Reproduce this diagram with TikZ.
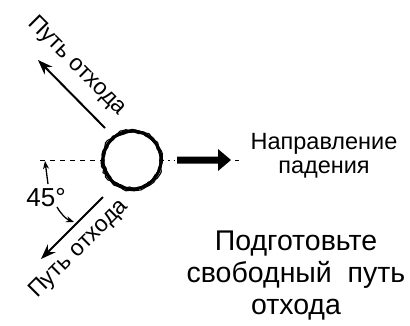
\documentclass[tikz,border=0pt]{standalone}
\usepackage{fontspec}
\setmainfont{Liberation Sans}
\usetikzlibrary{arrows.meta,decorations.pathmorphing}
\begin{document}
\begin{tikzpicture}[x=1pt,y=-1pt,
  lbl/.style={inner sep=0pt,font=\fontsize{23.5}{24.5}\selectfont},
  rot/.style={inner sep=0pt,font=\fontsize{23}{24}\selectfont},
  big/.style={inner sep=0pt,align=center,font=\fontsize{28.5}{32}\selectfont},
  escape/.style={line width=2pt,-{Stealth[length=15pt,width=11pt]}},
  small/.style={line width=1.3pt,-{Stealth[length=8pt,width=6pt]}},
  axisline/.style={line width=1pt,dash pattern=on 5pt off 5pt},
  rough/.style={line width=1.1pt,decorate,decoration={random steps,segment length=3pt,amplitude=0.9pt}}]
\path[use as bounding box] (0,0) rectangle (410,325);
% tree
\node[circle,draw,line width=3pt,minimum size=58pt,inner sep=0pt] (tree) at (132,160) {};
\pgfmathsetseed{7}
\draw[rough] (132,160) circle (30.5pt);
\draw[rough] (132,160) circle (27.8pt);
% axis
\coordinate (axL) at (40,160);
\coordinate (axR) at (175,160);
\draw[axisline] (axL) -- (tree.west);
\draw[line width=1pt,dash pattern=on 1.5pt off 4pt] (tree.east) -- (axR);
% fall arrow
\fill (177,156.5) -- (218,156.5) -- (218,149) -- (231,160) -- (218,171) -- (218,163.5) -- (177,163.5) -- cycle;
\coordinate (fallTip) at (231,160);
\draw[line width=1pt] (235,160) -- (239,160);
% escape routes
\coordinate (upTail) at (105,128);
\coordinate (upTip) at (38,60);
\coordinate (dnTail) at (103,197);
\coordinate (dnTip) at (41,259);
\draw[escape] (upTail) -- (upTip);
\draw[escape] (dnTail) -- (dnTip);
\node[rot,rotate=-45] (upLbl) at (77,66) {Путь отхода};
\node[rot,rotate=45] (dnLbl) at (79,249) {Путь отхода};
% 45 deg
\node[inner sep=0pt,font=\fontsize{26}{28}\selectfont] (ang) at (46,198) {45°};
\coordinate (angUpTail) at (48,184);
\coordinate (angUpTip) at (45,161);
\draw[small] (angUpTail) -- (angUpTip);
\coordinate (angDnTail) at (57,207);
\coordinate (angDnTip) at (74,222);
\draw[small] (angDnTail) .. controls (61,214) and (66,219) .. (angDnTip);
% texts
\node[lbl,align=center] (fallLbl) at (324,156) {Направление\\падения};
\node[big] (prep) at (296,276) {Подготовьте\\свободный~~путь\\отхода};
\end{tikzpicture}
\end{document}
